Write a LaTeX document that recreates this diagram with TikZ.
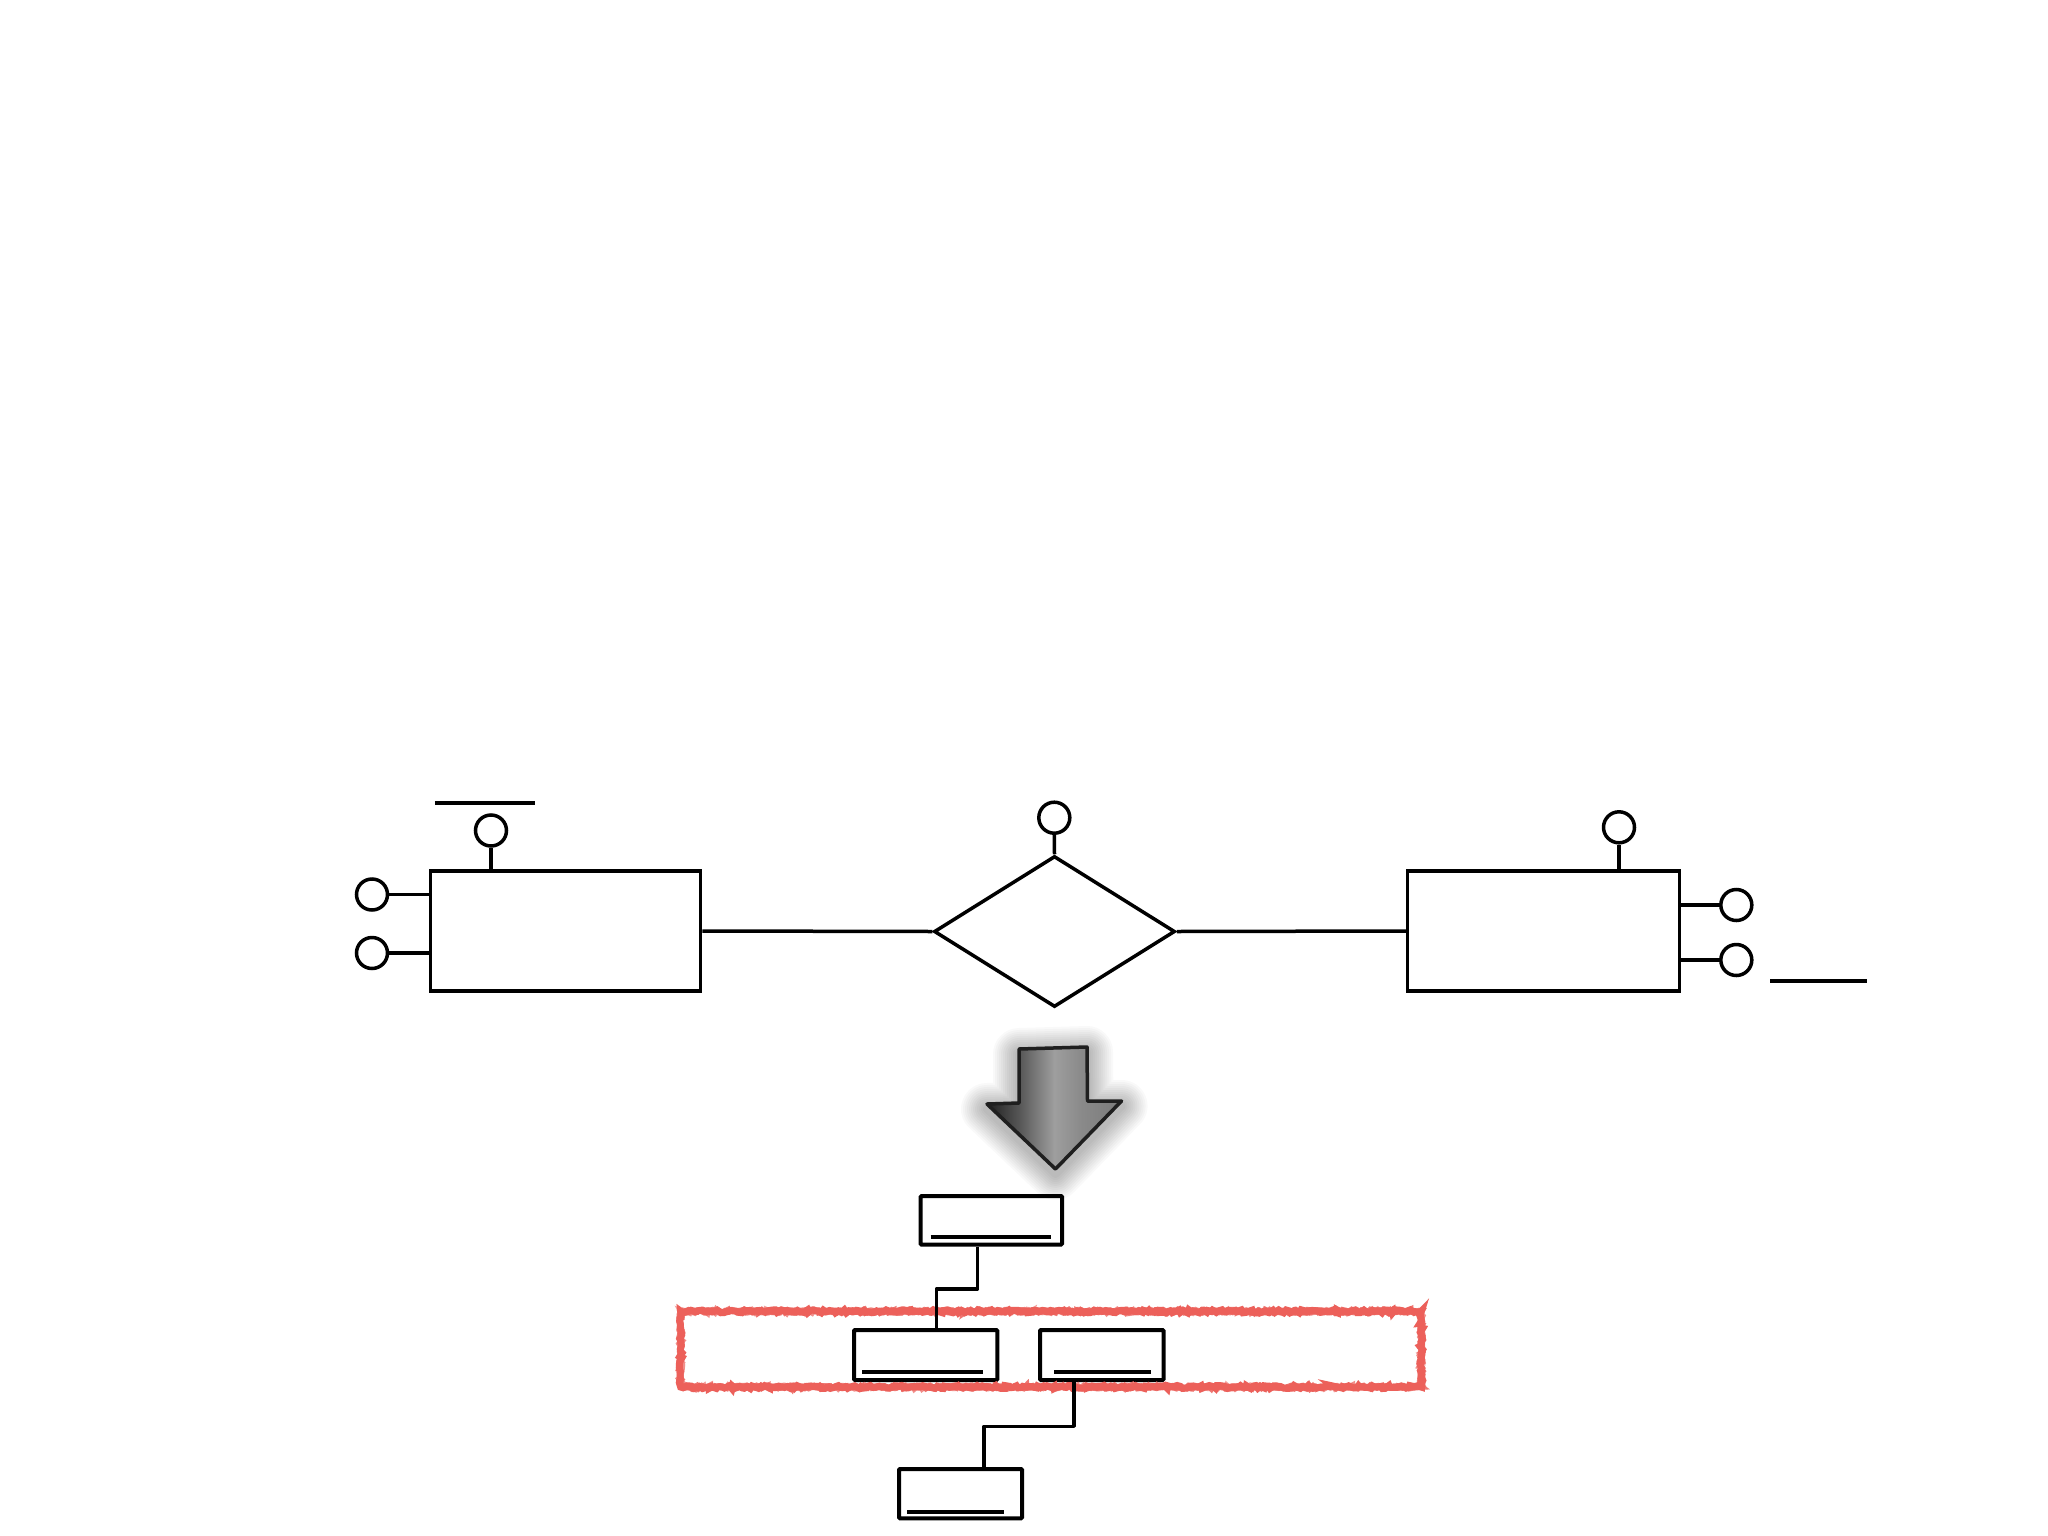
\documentclass[tikz,border=0pt]{standalone}
\usetikzlibrary{shapes.geometric,decorations.pathmorphing,calc}
\definecolor{redline}{RGB}{236,96,90}
\pgfdeclarehorizontalshading{arrowsh}{100bp}{color(0bp)=(black!88); color(25bp)=(black!88); color(37bp)=(black!66); color(50bp)=(black!38); color(60bp)=(black!46); color(75bp)=(black!52); color(100bp)=(black!52)}
\tikzset{
  ln/.style={line width=3.5pt, line cap=butt},
  ent/.style={draw, line width=3.5pt, inner sep=0pt, minimum width=270pt, minimum height=120pt},
  attr/.style={draw, circle, line width=3.5pt, inner sep=0pt, minimum size=31pt, fill=white},
  rel/.style={draw, diamond, line width=3.5pt, inner sep=0pt, minimum width=241pt, minimum height=151pt},
  tbl/.style={draw, line width=4pt, inner sep=0pt, rounded corners=1pt},
  uline/.style={line width=4pt},
}
\begin{document}
\begin{tikzpicture}[x=1pt,y=-1pt]
\useasboundingbox (0,0) rectangle (2048,1536);
\fill[white] (0,0) rectangle (2048,1536);

% ER part
\node[ent] (L) at (565.5,931) {};
\node[ent, minimum width=271.6pt] (R) at (1543.5,931) {};
\node[rel] (D) at (1054.5,931.5) {};

\node[attr] (lt) at (491,830.5) {};
\node[attr] (l1) at (372,894.5) {};
\node[attr] (l2) at (372,953) {};
\node[attr] (dt) at (1054.3,817.7) {};
\node[attr] (rt) at (1619,827.3) {};
\node[attr] (r1) at (1736.3,905) {};
\node[attr] (r2) at (1736.3,960) {};

\draw[ln] (lt.south) -- (lt.south |- L.north);
\draw[ln] (l1.east) -- (l1.east -| L.west);
\draw[ln] (l2.east) -- (l2.east -| L.west);
\draw[ln] (dt.south) -- (D.north);
\draw[ln] (rt.south) -- (rt.south |- R.north);
\draw[ln] (r1.west) -- (r1.west -| R.east);
\draw[ln] (r2.west) -- (r2.west -| R.east);

\draw[ln] (L.east) -- (D.west);
\draw[ln] (D.east) -- (R.west);

\coordinate (u1a) at (434.8,803);
\coordinate (u1b) at (535.4,803);
\draw[ln] (u1a) -- (u1b);
\coordinate (u2a) at (1770,981);
\coordinate (u2b) at (1867,981);
\draw[ln] (u2a) -- (u2b);

% big arrow: soft shadow, then shaded body
\def\arrowpath{(1019,1049) -- (1087,1047) -- (1087.5,1101) -- (1121.5,1101) -- (1055.5,1169) -- (987,1104) -- (1019,1103) -- cycle}
\begin{scope}[yshift=-5pt]
\foreach \w in {52,48,44,40,36,32,28,24,20,16,12,8}{
  \draw[black, opacity=0.022, line width=\w pt, line join=round] \arrowpath;
}
\end{scope}
\draw[line width=3.5pt, draw=black!88, line join=round, shading=arrowsh, shading angle=0] \arrowpath;

% tables
\node[tbl, minimum width=141.5pt, minimum height=48.5pt] (b1) at (991.3,1220.3) {};
\node[tbl, minimum width=143.3pt, minimum height=50pt] (b2) at (925.7,1355) {};
\node[tbl, minimum width=123.5pt, minimum height=50pt] (b3) at (1101.8,1355) {};
\node[tbl, minimum width=123pt, minimum height=49.3pt] (b4) at (960.5,1493.7) {};

\draw[uline] ([xshift=12pt,yshift=10pt]b1.south west) -- ([xshift=-13pt,yshift=10pt]b1.south east);
\draw[uline] ([xshift=10pt,yshift=10pt]b2.south west) -- ([xshift=-16pt,yshift=10pt]b2.south east);
\draw[uline] ([xshift=16pt,yshift=10pt]b3.south west) -- ([xshift=-14.5pt,yshift=10pt]b3.south east);
\draw[uline] ([xshift=10pt,yshift=8.3pt]b4.south west) -- ([xshift=-20pt,yshift=8.3pt]b4.south east);

% red rough group box
\foreach \s/\o/\lw in {1/1/7,2/0.85/6,3/0.7/6,4/0.6/5}{
  \pgfmathsetseed{\s}
  \draw[redline, line width=\lw pt, opacity=\o, decorate,
        decoration={random steps, segment length=2.5pt, amplitude=1.5pt}]
    (680.7,1311.3) rectangle (1421.3,1387);
}

% connectors
\draw[ln, line join=round] ([xshift=59pt]b1.south west) -- ++(0,42.5) -| ([xshift=84.3pt]b2.north west);
\draw[ln, line join=round] ([xshift=36pt]b3.south west) -- ++(0,44.3) -| ([xshift=87pt]b4.north west);
\end{tikzpicture}
\end{document}
